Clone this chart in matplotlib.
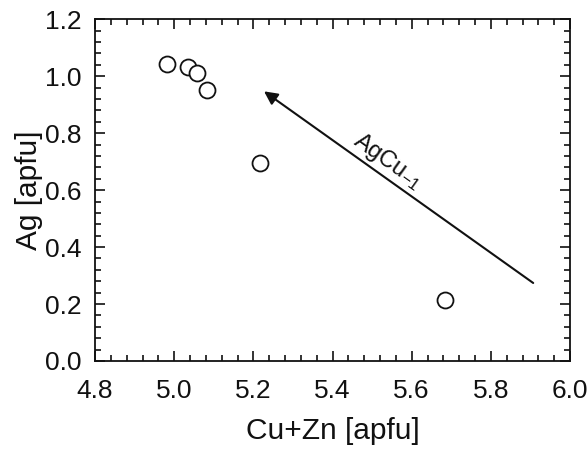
import matplotlib
matplotlib.use("Agg")
import matplotlib.pyplot as plt
from matplotlib.ticker import MultipleLocator, FormatStrFormatter

plt.rcParams['font.family'] = ['Liberation Sans', 'DejaVu Sans']
plt.rcParams['mathtext.fontset'] = 'custom'
plt.rcParams['mathtext.rm'] = 'Liberation Sans'
plt.rcParams['mathtext.it'] = 'Liberation Sans:italic'

cu_zn = [4.982, 5.035, 5.058, 5.083, 5.217, 5.684]
ag = [1.043, 1.032, 1.011, 0.952, 0.697, 0.215]

arrow_start = (5.907, 0.274)
arrow_end = (5.227, 0.947)
arrow_label = "AgCu$_{\\mathrm{-1}}$"

fig = plt.figure(figsize=(5.88, 4.49), dpi=100)
ax = fig.add_axes([0.1616, 0.196, 0.8078, 0.761])

ax.plot(cu_zn, ag, 'o', linestyle='none', markersize=11.5,
        markerfacecolor='white', markeredgecolor='#111111', markeredgewidth=1.3)

ax.annotate('', xy=arrow_end, xytext=arrow_start,
            arrowprops=dict(arrowstyle='-|>', color='#111111', lw=1.5,
                            mutation_scale=20, shrinkA=0, shrinkB=0))
ax.text(5.54, 0.70, arrow_label, rotation=-35.5, fontsize=17,
        ha='center', va='center', rotation_mode='anchor', color='#111111')

ax.set_xlim(4.8, 6.0)
ax.set_ylim(0.0, 1.2)
ax.xaxis.set_major_locator(MultipleLocator(0.2))
ax.xaxis.set_minor_locator(MultipleLocator(0.04))
ax.yaxis.set_major_locator(MultipleLocator(0.2))
ax.yaxis.set_minor_locator(MultipleLocator(0.04))
ax.xaxis.set_major_formatter(FormatStrFormatter('%.1f'))
ax.yaxis.set_major_formatter(FormatStrFormatter('%.1f'))
ax.tick_params(which='both', direction='in', top=True, right=True,
               labelsize=19, colors='#111111', width=1.2)
ax.tick_params(which='major', length=7, pad=13)
ax.tick_params(which='minor', length=4)
ax.tick_params(axis='y', which='major', pad=10)
for s in ax.spines.values():
    s.set_linewidth(1.3)
    s.set_color('#111111')

ax.set_xlabel('Cu+Zn [apfu]', fontsize=21.5, color='#111111', labelpad=10)
ax.set_ylabel('Ag [apfu]', fontsize=21.5, color='#111111', labelpad=1)

fig.savefig('out.png', dpi=100)
